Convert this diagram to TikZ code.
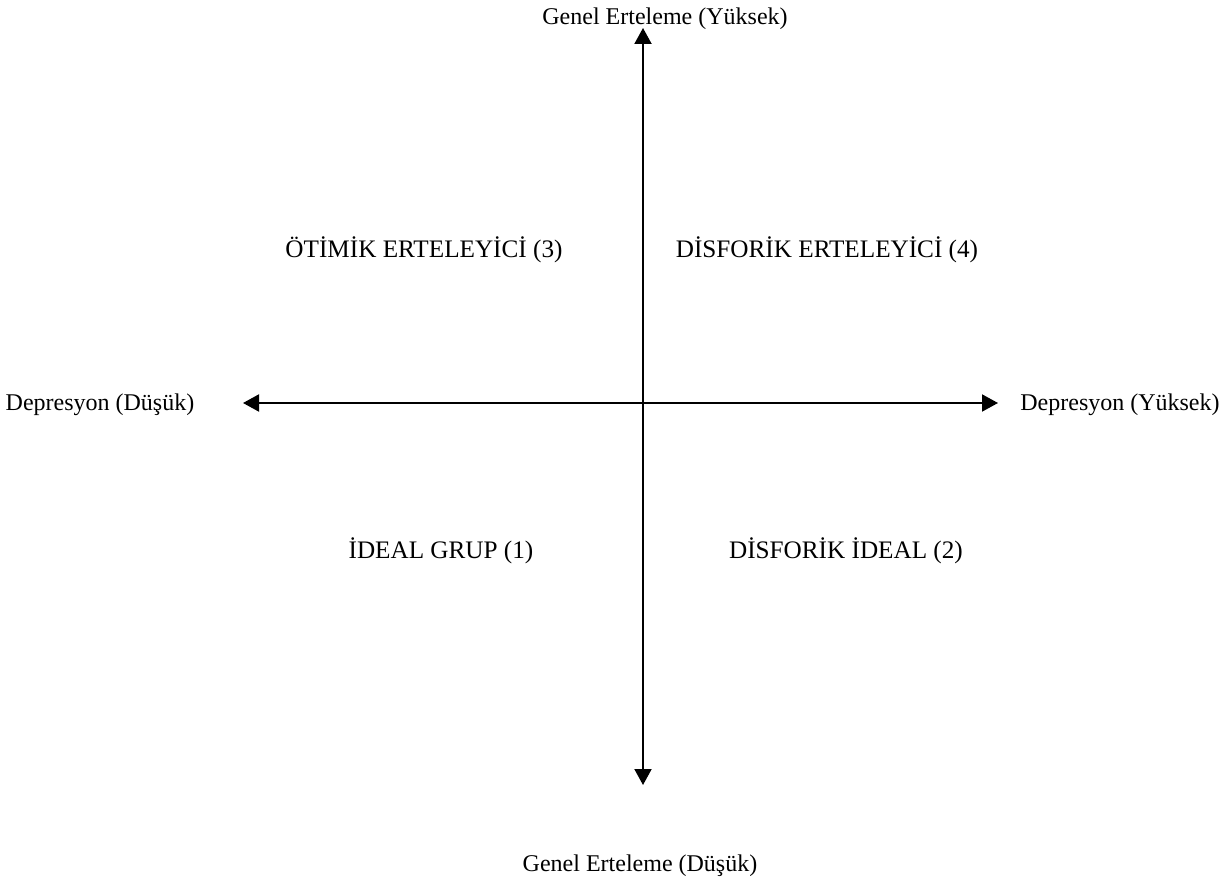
\documentclass[tikz,border=0pt]{standalone}
\usepackage{fontspec}
\setmainfont{Liberation Serif}
\usetikzlibrary{arrows.meta}
\begin{document}
\begin{tikzpicture}[x=1pt,y=-1pt,
  lbl/.style={anchor=base,inner sep=0pt,font=\fontsize{24}{29}\selectfont},
  qlbl/.style={anchor=base,inner sep=0pt,font=\fontsize{25.2}{30}\selectfont},
  axis/.style={line width=2pt,{Triangle[width=17pt,length=16pt]}-{Triangle[width=17pt,length=16pt]}}]
\useasboundingbox (0,0) rectangle (1229,882);
\coordinate (vt) at (643,28);
\coordinate (vb) at (643,785);
\coordinate (hl) at (243,403);
\coordinate (hr) at (998,403);
\draw[axis] (vb) -- (vt);
\draw[axis] (hl) -- (hr);
\node[lbl] (ytop) at (665,25) {Genel Erteleme (Yüksek)};
\node[lbl] (ybot) at (640,871) {Genel Erteleme (Düşük)};
\node[lbl] (xl) at (100,410) {Depresyon (Düşük)};
\node[lbl] (xr) at (1120,410) {Depresyon (Yüksek)};
\node[qlbl] (q3) at (424,258) {ÖTİMİK ERTELEYİCİ (3)};
\node[qlbl] (q4) at (827,258) {DİSFORİK ERTELEYİCİ (4)};
\node[qlbl] (q1) at (441,558) {İDEAL GRUP (1)};
\node[qlbl] (q2) at (846,558) {DİSFORİK İDEAL (2)};
\end{tikzpicture}
\end{document}
